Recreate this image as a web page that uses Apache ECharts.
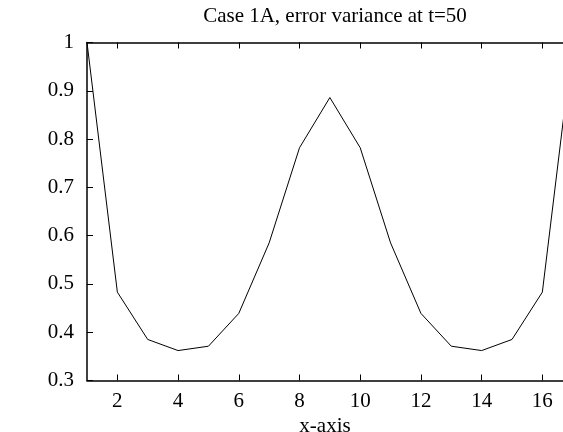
<!DOCTYPE html>
<html>
<head>
<meta charset="utf-8">
<script src="https://cdn.jsdelivr.net/npm/echarts@6/dist/echarts.min.js"></script>
<style>
    html, body { margin: 0; padding: 0; background: #fff; }
    #chart { width: 563px; height: 432px; }
</style>
</head>
<body>
<div id="chart"></div>
<script>
// data
const xValues = [1, 2, 3, 4, 5, 6, 7, 8, 9, 10, 11, 12, 13, 14, 15, 16, 17];
const errVar = [1.0, 0.483, 0.385, 0.362, 0.371, 0.439, 0.585, 0.782, 0.886, 0.782, 0.585, 0.439, 0.371, 0.362, 0.385, 0.483, 1.0];
const xTicks = [2, 4, 6, 8, 10, 12, 14, 16];

const font = '"Liberation Serif", "DejaVu Serif", serif';
const chart = echarts.init(document.getElementById('chart'));

const tickInside = { show: true, inside: true, length: 6, lineStyle: { color: '#000', width: 1 } };

// the original plot is cut at the right edge of the image, around x = 16.68
const xMax = 16.68;

chart.setOption({
    animation: false,
    backgroundColor: '#fff',
    title: {
        text: 'Case 1A, error variance at t=50',
        left: 330,
        top: 1,
        textAlign: 'center',
        textStyle: { fontFamily: font, fontWeight: 'normal', fontSize: 21, color: '#000' }
    },
    grid: { left: 87, right: 0, top: 42.5, bottom: 51.5, containLabel: false, outerBoundsMode: 'none' },
    xAxis: [
        {
            type: 'value',
            min: 1,
            max: xMax,
            position: 'bottom',
            name: 'x-axis',
            nameLocation: 'middle',
            nameGap: 32,
            nameTextStyle: { fontFamily: font, fontSize: 21, color: '#000' },
            axisLine: { show: true, onZero: false, lineStyle: { color: '#000', width: 1.5 } },
            axisTick: Object.assign({ customValues: xTicks }, tickInside),
            axisLabel: { customValues: xTicks, fontFamily: font, fontSize: 21, color: '#000', margin: 10 },
            splitLine: { show: false }
        },
        {
            type: 'value',
            min: 1,
            max: xMax,
            position: 'top',
            axisLine: { show: true, onZero: false, lineStyle: { color: '#000', width: 1.5 } },
            axisTick: Object.assign({ customValues: xTicks }, tickInside),
            axisLabel: { show: false },
            splitLine: { show: false }
        }
    ],
    yAxis: [
        {
            type: 'value',
            min: 0.3,
            max: 1,
            interval: 0.1,
            position: 'left',
            axisLine: { show: true, onZero: false, lineStyle: { color: '#000', width: 1.5 } },
            axisTick: tickInside,
            axisLabel: {
                fontFamily: font, fontSize: 21, color: '#000', margin: 13,
                formatter: v => String(Math.round(v * 10) / 10)
            },
            splitLine: { show: false }
        }
    ],
    series: [
        {
            type: 'line',
            data: xValues.map((x, i) => [x, errVar[i]]),
            showSymbol: false,
            lineStyle: { color: '#000', width: 1 },
            clip: true
        }
    ]
});
</script>
</body>
</html>
